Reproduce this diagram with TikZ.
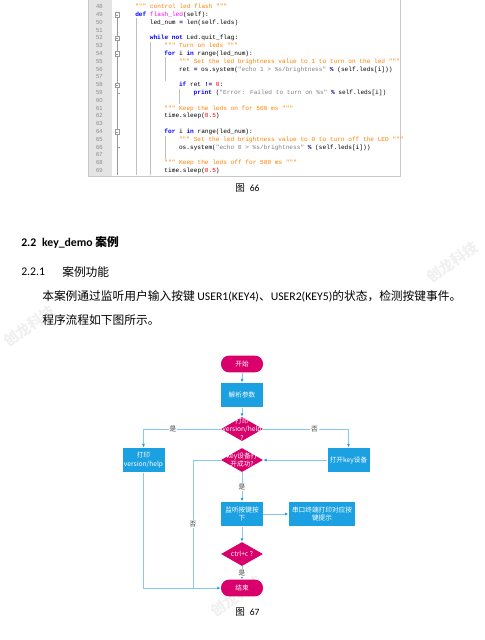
\documentclass[tikz,border=0pt]{standalone}
\usepackage{fontspec}
\setmainfont{Carlito}
\newfontfamily\cjk{Noto Sans CJK SC}
\newfontfamily\codefont{Liberation Mono}
\newfontfamily\numfont{Liberation Sans}
\usetikzlibrary{positioning,shapes.geometric,arrows.meta}
\definecolor{docorange}{HTML}{FF8000}
\definecolor{kwblue}{HTML}{0000FF}
\definecolor{fnpink}{HTML}{FF00FF}
\definecolor{strgrey}{HTML}{808080}
\definecolor{numred}{HTML}{FF0000}
\definecolor{opnavy}{HTML}{000080}
\definecolor{guttergrey}{HTML}{E4E4E4}
\definecolor{framegrey}{HTML}{C8C8C8}
\definecolor{foldgrey}{HTML}{9A9A9A}
\definecolor{flowmag}{HTML}{D9006C}
\definecolor{flowblue}{HTML}{1BA1E2}
\definecolor{flowline}{HTML}{86CBEE}

\newcommand\pykw[1]{\textcolor{kwblue}{\bfseries #1}}
\newcommand\pydoc[1]{\textcolor{docorange}{#1}}
\newcommand\pystr[1]{\textcolor{strgrey}{#1}}
\newcommand\pynum[1]{\textcolor{numred}{#1}}
\newcommand\pyop[1]{\textcolor{opnavy}{\bfseries #1}}
\newcommand\pyfn[1]{\textcolor{fnpink}{#1}}
\newcommand\flowfont{\cjk\fontsize{5}{6.3}\selectfont}

\begin{document}
\begin{tikzpicture}[
  x=0.75pt, y=-0.75pt,
  code/.style={anchor=base west, inner sep=0pt, font=\codefont\fontsize{4.6}{5}\selectfont},
  lnum/.style={anchor=base east, inner sep=0pt, text=black!45, font=\numfont\fontsize{4.4}{5}\selectfont},
  body/.style={anchor=west, inner sep=0pt, font=\fontsize{8.8}{10}\selectfont},
  caption/.style={inner sep=0pt, font=\fontsize{7.2}{8}\selectfont},
  wmark/.style={rotate=35, text=black!6, font=\cjk\bfseries\fontsize{11}{11}\selectfont},
  term/.style={rectangle, rounded corners=6pt, fill=flowmag, text=white,
    minimum width=31.5pt, minimum height=12.5pt, inner sep=0pt, font=\flowfont},
  proc/.style={rectangle, fill=flowblue, text=white, align=center,
    minimum width=31.5pt, minimum height=18.5pt, inner sep=1pt, font=\flowfont},
  dec/.style={diamond, fill=flowmag, minimum width=31.5pt, minimum height=18pt, inner sep=0pt},
  dectext/.style={text=white, align=center, inner sep=0pt, font=\flowfont},
  flow/.style={draw=flowline, line width=0.5pt, -{Latex[length=2.6pt,width=2.2pt,color=flowblue]}},
  yesno/.style={fill=white, inner sep=0.6pt, text=black!75, font=\flowfont}
]
\useasboundingbox (0,0) rectangle (485,640);
\fill[white] (0,0) rectangle (485,640);

% watermarks
\node[wmark] (wm1) at (452,262) {创龙科技};
\node[wmark] (wm2) at (29,326) {创龙科技};
\node[wmark] (wm3) at (236,596) {创龙科技};

% code listing
\fill[guttergrey] (89,0) rectangle (112,176);
\draw[framegrey, line width=0.4pt] (88.5,0) -- (88.5,176) -- (400,176) -- (400,0);
\foreach \n in {48,...,69}
  \node[lnum] at (103,8.6+7.8*\n-374.4) {\n};
\draw[foldgrey, line width=0.3pt] (117,15) -- (117,175);
\foreach \n in {49,52,54,58,64}
  \draw[foldgrey, fill=white, line width=0.3pt] (114.8,7*1+7.8*\n-374.4-2.2) rectangle +(4.4,4.4)
    (115.6,7+7.8*\n-374.4) -- +(2.8,0);
\foreach \n in {59,66}
  \draw[foldgrey, line width=0.3pt] (117,7+7.8*\n-374.4) -- +(2.5,0);
% indent guides
\draw[black!25, line width=0.3pt] (135.7,18) -- (135.7,175)
  (150.3,42) -- (150.3,175)
  (164.9,57) -- (164.9,81) (164.9,136) -- (164.9,159)
  (179.5,89) -- (179.5,104);

\node[code] (c48) at (135,8.6)   {\pydoc{""" control led flash """}};
\node[code] (c49) at (135,16.4)  {\pykw{def} \pyfn{flash\_led}(self):};
\node[code] (c50) at (149.6,24.2) {led\_num \pyop{=} len(self.leds)};
\node[code] (c52) at (149.6,39.8) {\pykw{while} \pykw{not} Led.quit\_flag:};
\node[code] (c53) at (164.2,47.6) {\pydoc{""" Turn on leds """}};
\node[code] (c54) at (164.2,55.4) {\pykw{for} i \pykw{in} range(led\_num):};
\node[code] (c55) at (178.8,63.2) {\pydoc{""" Set the led brightness value to 1 to turn on the led """}};
\node[code] (c56) at (178.8,71.0) {ret \pyop{=} os.system(\pystr{"echo 1 > \%s/brightness"} \pyop{\%} (self.leds[i]))};
\node[code] (c58) at (178.8,86.6) {\pykw{if} ret \pyop{!=} \pynum{0}:};
\node[code] (c59) at (193.4,94.4) {\pykw{print} (\pystr{"Error: Failed to turn on \%s"} \pyop{\%} self.leds[i])};
\node[code] (c61) at (164.2,110.0) {\pydoc{""" Keep the leds on for 500 ms """}};
\node[code] (c62) at (164.2,117.8) {time.sleep(\pynum{0.5})};
\node[code] (c64) at (164.2,133.4) {\pykw{for} i \pykw{in} range(led\_num):};
\node[code] (c65) at (178.8,141.2) {\pydoc{""" Set the led brightness value to 0 to turn off the LED """}};
\node[code] (c66) at (178.8,149.0) {os.system(\pystr{"echo 0 > \%s/brightness"} \pyop{\%} (self.leds[i]))};
\node[code] (c68) at (164.2,164.6) {\pydoc{""" Keep the leds off for 500 ms """}};
\node[code] (c69) at (164.2,172.4) {time.sleep(\pynum{0.5})};

\node[caption] (cap66) at (247.5,188) {{\cjk 图}\enspace 66};

% section text
\node[body, font=\bfseries\fontsize{8.8}{10}\selectfont] (sec) at (21,242) {2.2\enspace key\_demo {\cjk\bfseries 案例}};
\node[body] (subno) at (21,272) {2.2.1};
\node[body] (subtitle) at (62,272) {\cjk 案例功能};
\node[body] (para1) at (42,296) {{\cjk 本案例通过监听用户输入按键} USER1(KEY4){\cjk 、}USER2(KEY5){\cjk 的状态，检测按键事件。}};
\node[body] (para2) at (42,320) {\cjk 程序流程如下图所示。};

% flow chart
\node[term] (start)   at (242,364) {开始};
\node[proc] (parse)   at (242,395) {解析参数};
\node[dec, label={[dectext]center:打印\\version/help\\?}] (ask) at (242,429) {};
\node[proc] (printv)  at (143.5,460) {打印\\version/help};
\node[proc] (openkey) at (348.5,460) {打开key设备};
\node[dec, label={[dectext]center:key设备打\\开成功?}] (opened) at (242,460) {};
\node[proc] (listen)  at (242,514) {监听按键按\\下};
\node[proc, minimum width=50pt] (serial) at (322,514) {串口终端打印对应按\\键提示};
\node[dec, label={[dectext]center:ctrl+c ?}] (ctrlc) at (242,554) {};
\node[term] (finish)  at (242,588) {结束};
\coordinate (join) at (193,588);

\draw[flow] (start) -- (parse);
\draw[flow] (parse) -- (ask);
\draw[flow] (ask.west) -| (printv.north) node[yesno, pos=0.31] {是};
\draw[flow] (ask.east) -| (openkey.north) node[yesno, pos=0.3] {否};
\draw[flow] (openkey.west) -- (opened.east);
\draw[flow] (opened) -- (listen) node[yesno, midway] {是};
\draw[flow] (listen) -- (serial);
\draw[flow] (listen) -- (ctrlc);
\draw[flow] (ctrlc) -- (finish) node[yesno, midway] {是};
\draw[flow] (printv.south) |- (finish.west);
\draw[draw=flowline, line width=0.5pt] (opened.west) -| (join) node[yesno, pos=0.75] {否};

\node[caption] (cap67) at (247.5,612) {{\cjk 图}\enspace 67};
\end{tikzpicture}
\end{document}
